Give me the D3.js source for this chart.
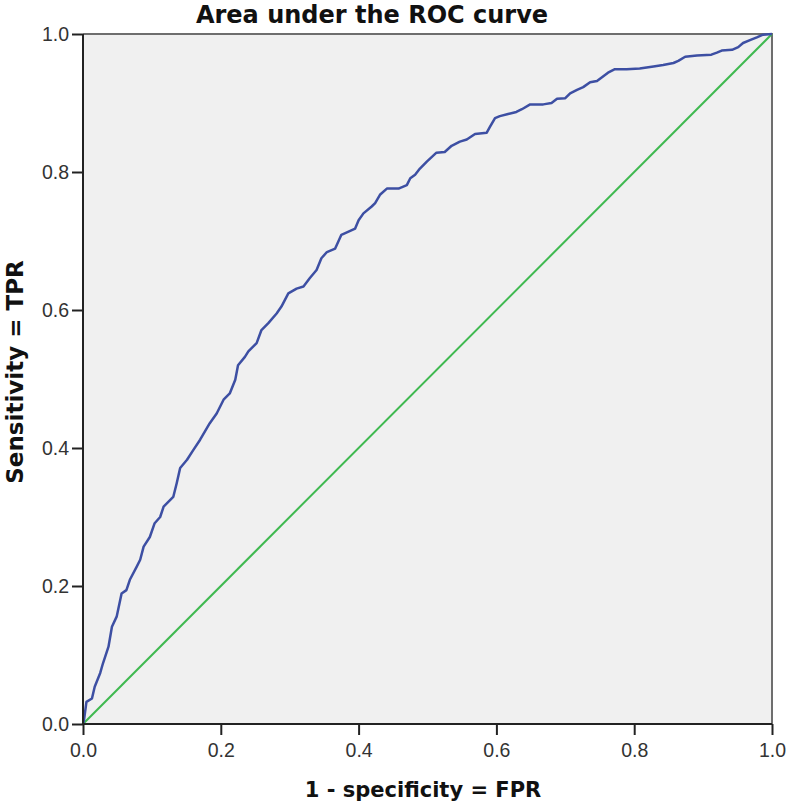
<!DOCTYPE html>
<meta charset="utf-8">
<style>
	body { margin: 0; background: #fff; font-family: "Liberation Sans", Arial, sans-serif; }
	.tick text { fill: #333; font-size: 19.5px; font-family: "Liberation Sans", Arial, sans-serif; }
	.domain { display: none; }
	.lbl { font-family: "DejaVu Sans", sans-serif; font-weight: bold; fill: #111; }
</style>
<body>
<svg id="roc" width="787" height="808"></svg>
<script src="https://d3js.org/d3.v7.min.js"></script>
<script>
	// false positive rate / true positive rate
	var fpr = [0, 0.0015, 0.005, 0.013, 0.017, 0.025, 0.029, 0.037, 0.042, 0.049, 0.056, 0.063, 0.068, 0.078, 0.083,
		0.088, 0.097, 0.104, 0.112, 0.117, 0.131, 0.136, 0.141, 0.151, 0.160, 0.170, 0.184, 0.194, 0.204, 0.213,
		0.221, 0.225, 0.235, 0.240, 0.252, 0.259, 0.269, 0.281, 0.288, 0.298, 0.310, 0.320, 0.329, 0.339, 0.346,
		0.354, 0.366, 0.375, 0.395, 0.400, 0.407, 0.419, 0.424, 0.431, 0.441, 0.458, 0.470, 0.475, 0.482, 0.489,
		0.499, 0.513, 0.525, 0.535, 0.547, 0.557, 0.569, 0.586, 0.591, 0.598, 0.605, 0.617, 0.629, 0.637, 0.649,
		0.668, 0.680, 0.688, 0.700, 0.707, 0.717, 0.726, 0.736, 0.746, 0.762, 0.772, 0.789, 0.808, 0.828, 0.842,
		0.857, 0.864, 0.874, 0.891, 0.912, 0.920, 0.927, 0.942, 0.951, 0.958, 0.968, 0.978, 0.987, 1.0];
	var tpr = [0, 0.006, 0.032, 0.037, 0.054, 0.074, 0.088, 0.112, 0.141, 0.156, 0.189, 0.194, 0.209, 0.228, 0.238,
		0.257, 0.271, 0.291, 0.300, 0.315, 0.329, 0.349, 0.371, 0.383, 0.397, 0.412, 0.436, 0.450, 0.470, 0.479,
		0.499, 0.520, 0.532, 0.540, 0.552, 0.571, 0.581, 0.595, 0.605, 0.624, 0.631, 0.634, 0.646, 0.658, 0.675,
		0.684, 0.689, 0.709, 0.718, 0.730, 0.740, 0.750, 0.755, 0.767, 0.776, 0.776, 0.781, 0.791, 0.796, 0.805,
		0.815, 0.828, 0.829, 0.838, 0.844, 0.847, 0.855, 0.857, 0.866, 0.878, 0.881, 0.884, 0.887, 0.891, 0.898,
		0.898, 0.900, 0.906, 0.907, 0.914, 0.919, 0.923, 0.930, 0.932, 0.944, 0.949, 0.949, 0.950, 0.953, 0.955,
		0.958, 0.961, 0.967, 0.969, 0.970, 0.973, 0.976, 0.977, 0.981, 0.987, 0.991, 0.995, 0.999, 1.0];
	var tickValues = [0, 0.2, 0.4, 0.6, 0.8, 1.0];
	var refLine = [0, 1];

	var svg = d3.select("#roc"),
	margin = {top: 34, right: 15, bottom: 84, left: 83},
	width = +svg.attr("width") - margin.left - margin.right,
	height = +svg.attr("height") - margin.top - margin.bottom;

	var x = d3.scaleLinear().domain([0, 1]).range([0, width]);
	var y = d3.scaleLinear().domain([0, 1]).range([height, 0]);

	var g = svg.append("g")
	.attr("transform", "translate(" + margin.left + "," + margin.top + ")");

	g.append("rect")
	.attr("width", width)
	.attr("height", height)
	.attr("fill", "#f0f0f0");

	// top and right frame in grey
	g.append("path")
	.attr("d", "M0,0H" + width + "V" + height)
	.attr("fill", "none")
	.attr("stroke", "#6e6e6e")
	.attr("stroke-width", 2);

	// diagonal reference line
	g.append("line")
	.attr("x1", x(refLine[0])).attr("y1", y(refLine[0]))
	.attr("x2", x(refLine[1])).attr("y2", y(refLine[1]))
	.attr("stroke", "#3fb950")
	.attr("stroke-width", 2);

	var pts = fpr.map(function(d, i) { return [d, tpr[i]]; });
	var line = d3.line()
	.x(function(d) { return x(d[0]); })
	.y(function(d) { return y(d[1]); });

	g.append("path")
	.datum(pts)
	.attr("d", line)
	.attr("fill", "none")
	.attr("stroke", "#3d4fa3")
	.attr("stroke-width", 2.5)
	.attr("stroke-linejoin", "round");

	g.append("g")
	.attr("transform", "translate(0," + height + ")")
	.call(d3.axisBottom(x).tickValues(tickValues).tickFormat(d3.format(".1f")).tickSize(11).tickPadding(8));
	g.append("g")
	.call(d3.axisLeft(y).tickValues(tickValues).tickFormat(d3.format(".1f")).tickSize(11).tickPadding(3));
	svg.selectAll(".tick line").attr("stroke", "#222").attr("stroke-width", 2);

	// black left and bottom axis lines
	g.append("path")
	.attr("d", "M0,0V" + height + "H" + width)
	.attr("fill", "none")
	.attr("stroke", "#222")
	.attr("stroke-width", 2);

	svg.append("text")
	.attr("class", "lbl")
	.attr("x", 372)
	.attr("y", 23)
	.attr("text-anchor", "middle")
	.style("font-size", "24px")
	.text("Area under the ROC curve");

	svg.append("text")
	.attr("class", "lbl")
	.attr("x", 423)
	.attr("y", 797)
	.attr("text-anchor", "middle")
	.style("font-size", "21px")
	.text("1 - specificity = FPR");

	svg.append("text")
	.attr("class", "lbl")
	.attr("transform", "translate(23,372) rotate(-90)")
	.attr("text-anchor", "middle")
	.style("font-size", "23px")
	.text("Sensitivity = TPR");
</script>
</body>
